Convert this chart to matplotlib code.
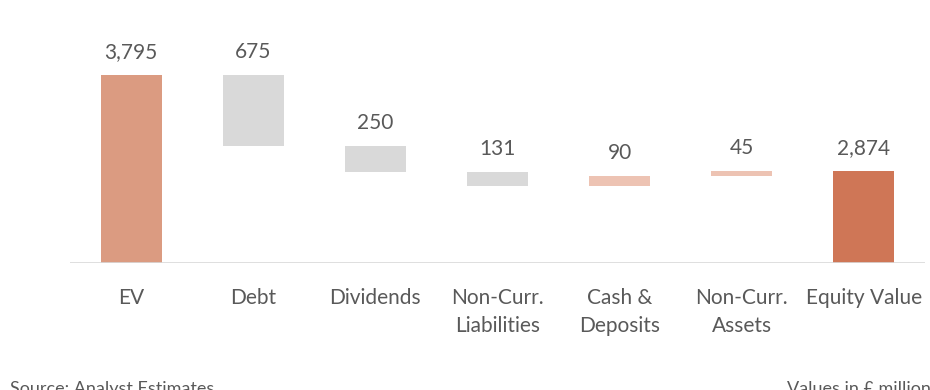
import matplotlib
matplotlib.use("Agg")
import matplotlib.pyplot as plt

categories = ["EV", "Debt", "Dividends", "Non-Curr.\nLiabilities", "Cash &\nDeposits",
              "Non-Curr.\nAssets", "Equity Value"]
values = [3795, -675, -250, -131, 90, 45, 2874]
kinds = ["total", "down", "down", "down", "up", "up", "total"]
labels = ["3,795", "675", "250", "131", "90", "45", "2,874"]

colors = {"total_start": "#DB9B81", "total_end": "#CF7656", "down": "#D9D9D9", "up": "#EDC3B3"}
text_col = "#595959"

plt.rcParams["font.family"] = ["Lato", "DejaVu Sans"]

fig = plt.figure(figsize=(9.3, 3.9), dpi=100)
ax = fig.add_axes([70 / 930, 1 - 263 / 390, 855 / 930, 243 / 390])
ymin, ymax = 2000, 4321
ax.set_ylim(ymin, ymax)
ax.set_xlim(-0.5, 6.5)

running = 0
for i, (v, k) in enumerate(zip(values, kinds)):
    if k == "total":
        bottom, height = 0, v
        col = colors["total_start"] if i == 0 else colors["total_end"]
        running = v
    else:
        bottom = running + min(v, 0)
        height = abs(v)
        col = colors[k]
        running += v
    ax.bar(i, height, bottom=bottom, width=0.5, color=col, linewidth=0)
    top = bottom + height
    ax.annotate(labels[i], (i, top), xytext=(0, 9.5), textcoords="offset points",
                ha="center", va="bottom", fontsize=15, color=text_col)

ax.axhline(ymin, color="#D9D9D9", linewidth=1.2)
for s in ax.spines.values():
    s.set_visible(False)
ax.set_yticks([])
ax.set_xticks(range(len(categories)))
ax.set_xticklabels(categories, fontsize=15, color=text_col, linespacing=1.5)
ax.tick_params(axis="x", length=0, pad=18)

fig.text(10 / 930, 1 - 394 / 390, "Source: Analyst Estimates", fontsize=13,
         color=text_col, ha="left", va="baseline")
fig.text(787 / 930, 1 - 394 / 390, "Values in £ million", fontsize=13,
         color=text_col, ha="left", va="baseline")
fig.text(85 / 930, 1 - (-5) / 390, "Bridge from Enterprise Value to Equity Value",
         fontsize=15, color="#D0703F", ha="left", va="baseline")

fig.savefig("out.png", dpi=100)
